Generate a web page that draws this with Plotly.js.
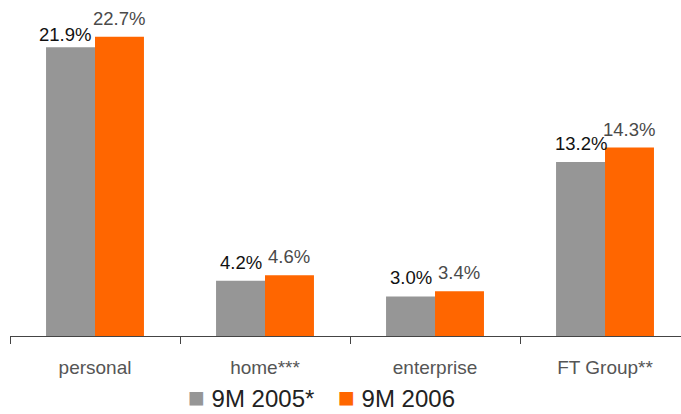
<!DOCTYPE html>
<html>
<head>
<meta charset="utf-8">
<script src="https://cdn.plot.ly/plotly-3.0.1.min.js"></script>
<style>
  html, body { margin: 0; padding: 0; background: #fff; }
  #chart { width: 681px; height: 414px; }
</style>
</head>
<body>
<div id="chart"></div>
<script>
// Segment labels along the x axis
const categories = ['personal', 'home***', 'enterprise', 'FT Group**'];
// Series names
const seriesNames = ['9M 2005*', '9M 2006'];
// Values in percent
const values2005 = [21.9, 4.2, 3.0, 13.2];
const values2006 = [22.7, 4.6, 3.4, 14.3];

const GREY = '#969696';
const ORANGE = '#ff6600';
const FONT = 'Liberation Sans, Arial, sans-serif';

const W = 681, H = 414;
const M = { l: 10, r: 0, t: 0, b: 78 };
const X_RANGE = [-0.5, 3.447];
const BARGAP = 0.424;

// pixel size of one category slot and the horizontal offset of each bar centre
const slotPx = (W - M.l - M.r) / (X_RANGE[1] - X_RANGE[0]);
const halfBarPx = slotPx * (1 - BARGAP) / 4;

const seriesValues = [values2005, values2006];
const seriesColors = [GREY, ORANGE];
const labelColors = ['#111111', '#4a4a4a'];

const traces = seriesValues.map((vals, i) => ({
  type: 'bar', name: seriesNames[i], x: categories, y: vals,
  marker: { color: seriesColors[i], line: { width: 0 } },
  hoverinfo: 'skip', showlegend: false
}));

// value labels above each bar; the first pair sits close together,
// so its left label is tucked slightly left and lower to keep them apart
const annotations = [];
seriesValues.forEach((vals, i) => {
  vals.forEach((v, j) => {
    const tucked = (i === 0 && j === 0);
    annotations.push({
      xref: 'x', yref: 'y', x: categories[j], y: v,
      xshift: (i === 0 ? -1 : 1) * halfBarPx + (tucked ? -6 : 0),
      yshift: tucked ? 0 : 6,
      xanchor: 'center', yanchor: 'bottom', showarrow: false,
      text: v.toFixed(1) + '%',
      font: { family: FONT, size: 18.5, color: labelColors[i] }
    });
  });
});

// legend keys beneath the axis
const keyX = [0.2638, 0.4873];
seriesNames.forEach((name, i) => {
  annotations.push({
    xref: 'paper', yref: 'paper', x: keyX[i], y: -M.b / (H - M.t - M.b),
    xanchor: 'left', yanchor: 'bottom', showarrow: false, borderpad: 0,
    text: '<span style="color:' + seriesColors[i] + ';font-size:28px">■</span> ' + name,
    font: { family: FONT, size: 24, color: '#222222' }
  });
});

const layout = {
  width: W, height: H,
  margin: { l: M.l, r: M.r, t: M.t, b: M.b, pad: 0 },
  paper_bgcolor: '#ffffff', plot_bgcolor: '#ffffff',
  barmode: 'group', bargap: BARGAP, bargroupgap: 0,
  showlegend: false,
  xaxis: {
    type: 'category', range: X_RANGE, fixedrange: true,
    showline: true, linecolor: '#444444', linewidth: 1,
    ticks: 'outside', tickson: 'boundaries', ticklen: 7, tickcolor: '#444444', tickwidth: 1,
    ticklabelstandoff: 14,
    tickfont: { family: FONT, size: 19, color: '#555555' },
    showgrid: false, zeroline: false
  },
  yaxis: {
    range: [0, 25.49], visible: false, showgrid: false, zeroline: false, fixedrange: true
  },
  annotations: annotations
};

Plotly.newPlot('chart', traces, layout, { staticPlot: true, displayModeBar: false });
</script>
</body>
</html>
